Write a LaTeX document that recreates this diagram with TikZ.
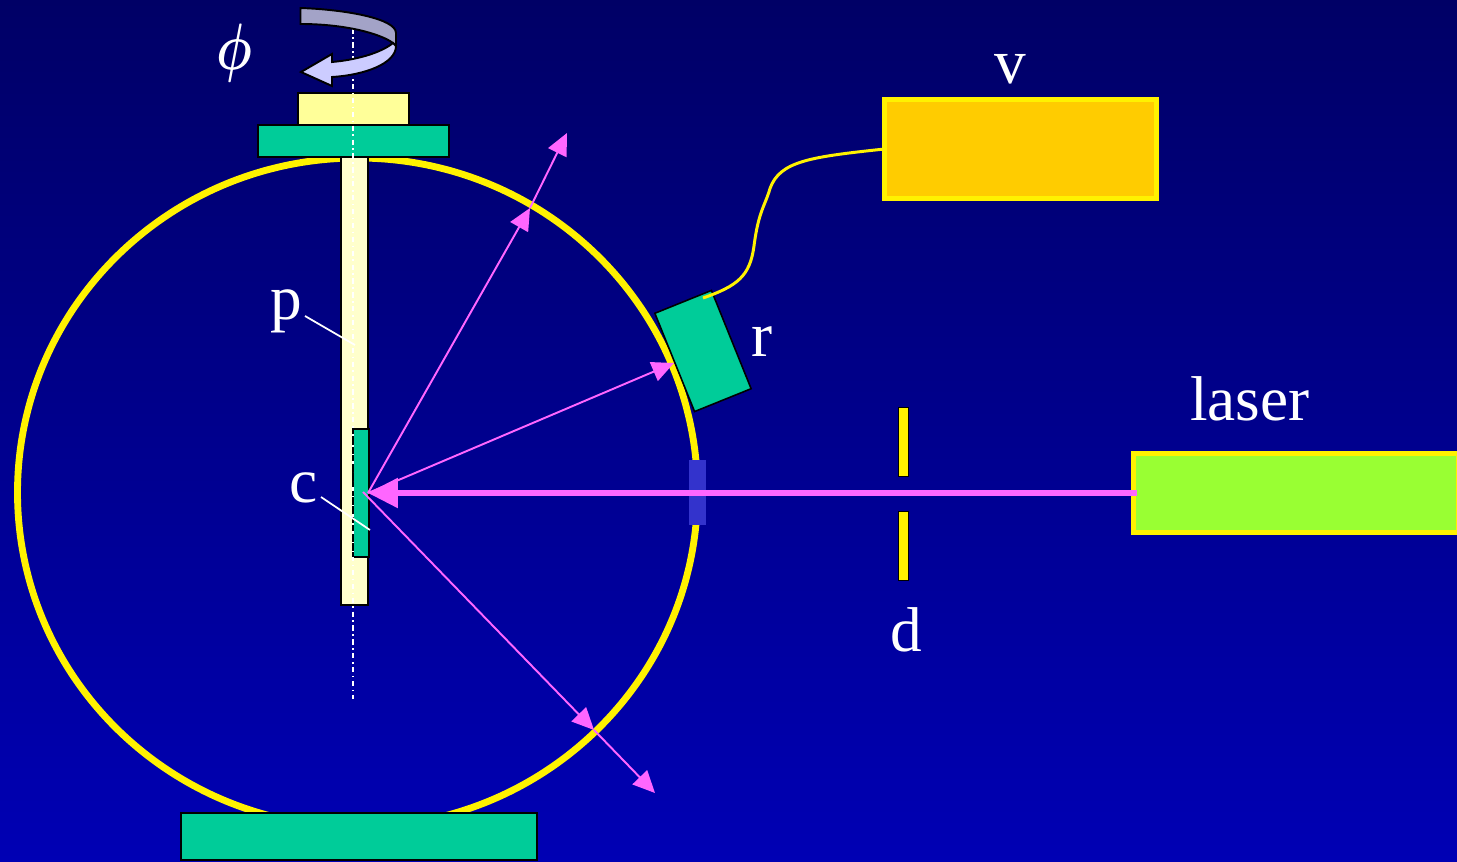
\documentclass[tikz,border=0pt]{standalone}
\usepackage{fontspec}
\setmainfont{Liberation Serif}
\usepackage{xcolor}
\usetikzlibrary{arrows.meta,shapes.geometric}
\definecolor{skytop}{HTML}{000066}
\definecolor{skybot}{HTML}{0000B4}
\definecolor{mount}{HTML}{00CC99}
\definecolor{rodcol}{HTML}{FFFFCC}
\definecolor{capcol}{HTML}{FFFF99}
\definecolor{pink}{HTML}{FF66FF}
\definecolor{voltcol}{HTML}{FFCC00}
\definecolor{lasercol}{HTML}{99FF33}
\definecolor{wincol}{HTML}{3333CC}
\definecolor{bandback}{HTML}{A3A3C7}
\definecolor{bandfront}{HTML}{CCCCFF}

\begin{document}
\begin{tikzpicture}[
  part/.style={draw=black, line width=1.2pt, inner sep=0pt, outer sep=0pt},
  mountbox/.style={part, fill=mount},
  slit/.style={part, fill=yellow, line width=0.8pt, minimum width=0.2cm, minimum height=1.38cm},
  instr/.style={draw=yellow, line width=2.9pt, inner sep=0pt, outer sep=0pt},
  ray/.style={pink, line width=1.1pt, -{Triangle[length=12.5pt, width=11.5pt]}},
  lbl/.style={text=white, inner sep=0pt, font=\fontsize{36}{40}\selectfont},
  leader/.style={white, line width=1pt}
]
  % Background
  \useasboundingbox (0,0) rectangle (29.14,17.22);
  \clip (0,0) rectangle (29.14,17.22);
  \shade[top color=skytop, bottom color=skybot] (0,0) rectangle (29.14,17.22);

  % Sphere and its base
  \node[draw=yellow, line width=3.9pt, ellipse, minimum width=13.6cm, minimum height=13.38cm, inner sep=0pt] (sphere) at (7.15,7.37) {};
  \node[mountbox, minimum width=7.12cm, minimum height=0.94cm] (base) at (7.18,0.49) {};

  % Holder
  \node[part, fill=rodcol, minimum width=0.54cm, minimum height=8.96cm] (rod) at (7.09,9.6) {};
  \node[part, fill=capcol, minimum width=2.22cm, minimum height=0.64cm] (cap) at (7.07,15.04) {};
  \node[mountbox, minimum width=3.82cm, minimum height=0.64cm] (flange) at (7.07,14.4) {};
  \node[mountbox, minimum width=0.32cm, minimum height=2.56cm] (sample) at (7.22,7.36) {};

  % Rotation axis
  \coordinate (axtop) at (7.06,16.65);
  \coordinate (axbot) at (7.06,3.24);
  \draw[white, line width=0.9pt, dash dot] (axtop) -- (axbot);
  \draw[black, line width=0.7pt, densely dashed] (sample.north west) -- (sample.south west);

  % Rotation arrow
  \draw[black, line width=1.1pt, fill=bandback]
    (6.01,17.06) .. controls (6.9,17.03) and (7.92,16.85) .. (7.92,16.56)
    -- (7.92,16.3) -- (7.86,16.36)
    .. controls (7.6,16.55) and (6.9,16.74) .. (6.01,16.74) -- cycle;
  \draw[black, line width=1.1pt, fill=bandfront]
    (7.86,16.36) .. controls (7.6,16.15) and (7.1,16.02) .. (6.64,15.98)
    -- (6.64,16.14) -- (6.02,15.78) -- (6.64,15.5) -- (6.64,15.68)
    .. controls (7.3,15.72) and (7.92,15.95) .. (7.92,16.3) -- cycle;

  % Port, slits and source
  \node[fill=wincol, inner sep=0pt, minimum width=0.34cm, minimum height=1.3cm] (port) at (13.95,7.37) {};
  \node[slit] (slitup) at (18.07,8.38) {};
  \node[slit] (slitdn) at (18.07,6.3) {};
  \node[instr, fill=lasercol, minimum width=6.5cm, minimum height=1.58cm] (laser) at (25.92,7.36) {};
  \node[instr, fill=voltcol, minimum width=5.44cm, minimum height=1.98cm] (volt) at (20.41,14.24) {};

  % Receiver
  \node[part, fill=mount, line width=0.9pt, minimum width=1.22cm, minimum height=2.12cm, rotate=22] (recv) at (14.06,10.2) {};
  \coordinate (wirein) at (14.06,11.26);
  \draw[yellow, line width=1.7pt] (wirein) .. controls (14.75,11.5) and (15.0,11.7) .. (15.08,12.3)
    .. controls (15.17,13) and (15.3,13.1) .. (15.4,13.45)
    .. controls (15.6,14.0) and (16.2,14.08) .. (volt.west);

  % Rays
  \coordinate (hit) at (7.36,7.36);
  \coordinate (hitb) at (7.26,7.38);
  \coordinate (rayA) at (10.6,13.06);
  \coordinate (rayAend) at (11.34,14.56);
  \coordinate (rayB) at (13.48,9.96);
  \coordinate (rayC) at (11.88,2.62);
  \coordinate (rayCend) at (13.1,1.36);
  \coordinate (beamin) at (22.74,7.36);
  \draw[ray] (hit) -- (rayA);
  \draw[ray] (rayA) -- (rayAend);
  \draw[ray] (hit) -- (rayB);
  \draw[ray] (hitb) -- (rayC);
  \draw[ray] (rayC) -- (rayCend);
  \draw[pink, line width=3pt, -{Triangle[length=17pt, width=16.5pt]}] (beamin) -- (hit);

  % Leaders
  \coordinate (pfoot) at (7.1,10.32);
  \coordinate (phead) at (6.1,10.9);
  \coordinate (cfoot) at (7.4,6.62);
  \coordinate (chead) at (6.42,7.28);
  \draw[leader] (phead) -- (pfoot);
  \draw[leader] (chead) -- (cfoot);

  % Labels
  \node[lbl, font=\fontsize{24}{28}\selectfont\boldmath, xscale=1.15, yscale=1.5] (phi) at (4.68,16.15) {$\phi$};
  \node[lbl] (ltrp) at (5.72,11.0) {p};
  \node[lbl] (ltrc) at (6.08,7.46) {c};
  \node[lbl] (ltrr) at (15.24,10.38) {r};
  \node[lbl] (ltrd) at (18.12,4.62) {d};
  \node[lbl] (ltrv) at (20.2,15.84) {v};
  \node[lbl] (ltrl) at (25,9.24) {laser};
\end{tikzpicture}
\end{document}
